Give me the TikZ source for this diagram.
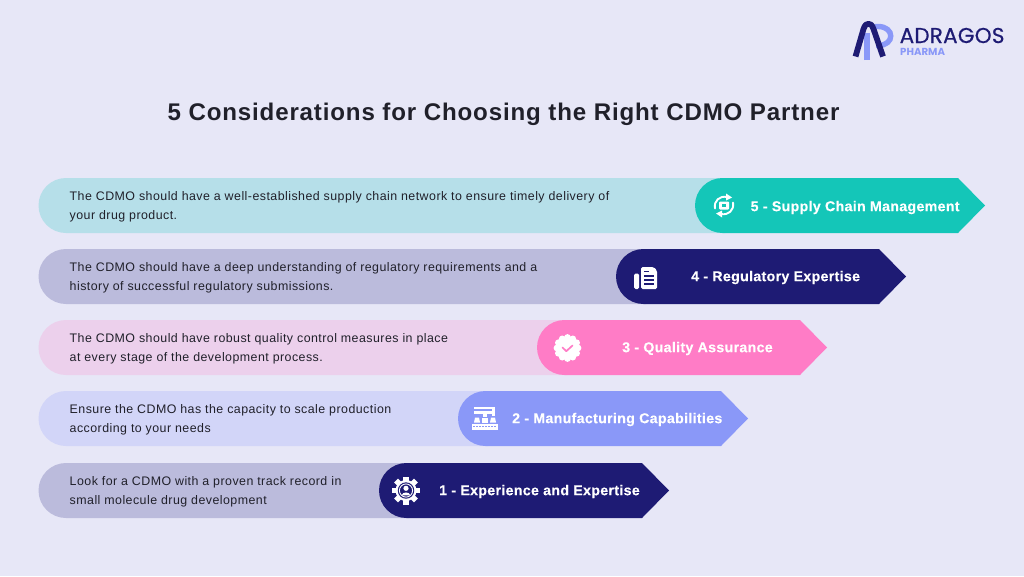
\documentclass[tikz,border=0pt]{standalone}
\usepackage{fontspec}
\setmainfont{Liberation Sans}
\newfontfamily\bodyfont[LetterSpace=3.7]{Liberation Sans}
\newfontfamily\headfont[LetterSpace=2.2,FakeBold=0.2]{Liberation Sans}
\newfontfamily\titlefont[LetterSpace=3.5]{Liberation Sans}
\newfontfamily\logofont[FakeBold=0.5,LetterSpace=1]{Poppins}
\newfontfamily\logosubfont{Poppins}
\definecolor{pagebg}{HTML}{E7E7F7}
\definecolor{navy}{HTML}{1E1B74}
\definecolor{teal}{HTML}{14C6B8}
\definecolor{tealsoft}{HTML}{B6DFE9}
\definecolor{navysoft}{HTML}{BBBBDC}
\definecolor{pink}{HTML}{FF7CC6}
\definecolor{pinksoft}{HTML}{ECD0EC}
\definecolor{periwinkle}{HTML}{8A98F8}
\definecolor{perisoft}{HTML}{D2D5F8}
\definecolor{inktext}{HTML}{20202A}
\tikzset{
  x=1pt,y=-1pt,
  bodytext/.style={anchor=west,align=left,text=inktext,font=\bodyfont\fontsize{12.4}{19}\selectfont,inner sep=0pt},
  headtext/.style={text=white,font=\headfont\bfseries\fontsize{14.2}{17}\selectfont,inner sep=0pt},
  iconline/.style={draw=white,line width=1.9pt,line cap=round,line join=round},
}
% One row: soft rounded strip plus a coloured arrow-shaped label.
% #1 top y, #2 arrow left x, #3 soft colour, #4 strong colour
\newcommand{\rowbar}[4]{%
  \fill[#3] (66,#1) arc[start angle=270,end angle=90,radius=27.5] -- (#2+30,#1+55) -- (#2+30,#1) -- cycle;
  \fill[#4] (#2+27.5,#1) -- (#2+263,#1) -- (#2+290,#1+27.5) -- (#2+263,#1+55) -- (#2+27.5,#1+55)
     arc[start angle=90,end angle=270,radius=27.5] -- cycle;
}
\begin{document}
\begin{tikzpicture}
\useasboundingbox (0,0) rectangle (1024,576);
\fill[pagebg] (0,0) rectangle (1024,576);

% Logo mark and wordmark
\draw[periwinkle,line width=5.6pt] (867,60) -- (867,33);
\draw[periwinkle,line width=5.4pt] (875,26.5) -- (878,26.5) .. controls (895,26.5) and (895,45.5) .. (878,45.5) -- (876,45.5);
\draw[navy,line width=5.8pt,line join=round] (855.5,56.5) -- (863.5,29) .. controls (865,24.5) and (866.8,23.8) .. (868.5,23.8) .. controls (870.2,23.8) and (872,24.5) .. (873.5,29) -- (883,56.5);
\node[anchor=west,inner sep=0pt,text=navy] (brand) at (899.5,35.5) {\logofont\fontsize{21.5}{21.5}\selectfont ADRAGOS};
\node[anchor=west,inner sep=0pt,text=periwinkle] (brandsub) at (900,51.5) {\logosubfont\bfseries\fontsize{10.2}{10.2}\selectfont PHARMA};

% Heading
\node[inner sep=0pt,text=inktext] (heading) at (503.5,114.5) {\titlefont\bfseries\fontsize{24.1}{28}\selectfont 5 Considerations for Choosing the Right CDMO Partner};

% Rows, top to bottom
\rowbar{178}{695}{tealsoft}{teal}
\rowbar{249}{616}{navysoft}{navy}
\rowbar{320}{537}{pinksoft}{pink}
\rowbar{391}{458}{perisoft}{periwinkle}
\rowbar{463}{379}{navysoft}{navy}

\node[bodytext] (text5) at (69.5,206.5) {The CDMO should have a well-established supply chain network to ensure timely delivery of\\your drug product.};
\node[bodytext] (text4) at (69.5,277.5) {The CDMO should have a deep understanding of regulatory requirements and a\\history of successful regulatory submissions.};
\node[bodytext] (text3) at (69.5,348.5) {The CDMO should have robust quality control measures in place\\at every stage of the development process.};
\node[bodytext] (text2) at (69.5,419.5) {Ensure the CDMO has the capacity to scale production\\according to your needs};
\node[bodytext] (text1) at (69.5,491.5) {Look for a CDMO with a proven track record in\\small molecule drug development};

\node[headtext,anchor=west] (head5) at (750.5,207.5) {5 - Supply Chain Management};
\node[headtext,anchor=west] (head4) at (691,277.5) {4 - Regulatory Expertise};
\node[headtext,anchor=west] (head3) at (622,348.5) {3 - Quality Assurance};
\node[headtext,anchor=west] (head2) at (512,419.5) {2 - Manufacturing Capabilities};
\node[headtext,anchor=west] (head1) at (439,491.5) {1 - Experience and Expertise};

% Icon: rotating arrows around a small box (row 5)
\begin{scope}[shift={(724,205.5)}]
  \draw[iconline] (-9,3) .. controls (-10.5,-5) and (-4,-10) .. (3,-8.5);
  \draw[iconline] (9,-3) .. controls (10.5,5) and (4,10) .. (-3,8.5);
  \fill[white] (2,-12) -- (8,-8) -- (2,-5) -- cycle;
  \fill[white] (-2,12) -- (-8,8) -- (-2,5) -- cycle;
  \fill[white,rounded corners=1pt] (-5,-4) rectangle (5,4);
  \fill[teal] (-2.2,-1.4) rectangle (2.2,1.4);
\end{scope}

% Icon: stacked documents (row 4)
\begin{scope}[shift={(646,278)}]
  \fill[white,rounded corners=1.5pt] (-5,-11) -- (7.5,-11) -- (11,-7.5) -- (11,11) -- (-5,11) -- cycle;
  \fill[white,rounded corners=1.5pt] (-12,-4.5) rectangle (-7,11);
  \foreach \yy in {-3,1.2,5.4}{\fill[navy] (-2,\yy) rectangle (8,\yy+1.6);}
  \fill[navy] (-2,-7.5) rectangle (3,-6);
\end{scope}

% Icon: scalloped badge with check mark (row 3)
\begin{scope}[shift={(567.5,348)}]
  \foreach \a in {0,30,...,330}{\fill[white] (\a:10.5) circle[radius=3.4];}
  \fill[white] (0,0) circle[radius=11];
  \draw[pink,line width=1.7pt,line cap=round,line join=round] (-5,-0.5) -- (-1.2,3.2) -- (5,-2.5);
\end{scope}

% Icon: robot arm above a conveyor (row 2)
\begin{scope}[shift={(485,419)}]
  \fill[white] (-11,-12) rectangle (9,-10);
  \fill[white] (-11,-8.5) rectangle (10,-5.5);
  \fill[white] (-2,-5.5) rectangle (2,-2);
  \fill[white] (7,-12) rectangle (10,-3);
  \fill[white] (-10,-1.5) -- (-6,-1.5) -- (-5,3.5) -- (-11,3.5) -- cycle;
  \fill[white] (-3,-1.5) -- (3,-1.5) -- (3,3.5) -- (-3,3.5) -- cycle;
  \fill[white] (6,-1.5) -- (10,-1.5) -- (11,3.5) -- (5,3.5) -- cycle;
  \fill[white] (-13,4.5) rectangle (13,11);
  \foreach \xx in {-11,-8,...,11}{\fill[periwinkle] (\xx-.6,7) rectangle (\xx+.6,8.4);}
\end{scope}

% Icon: gear with a person inside (row 1)
\begin{scope}[shift={(406,490.5)}]
  \foreach \a in {0,45,...,315}{\fill[white,rotate=\a] (-2.8,-14) rectangle (2.8,-8);}
  \fill[white] (0,0) circle[radius=10.5];
  \fill[navy] (0,0) circle[radius=8.2];
  \draw[white,line width=.9pt] (0,0) circle[radius=6.6];
  \fill[white] (0,-2.2) circle[radius=2.6];
  \fill[white] (-4.2,4.8) .. controls (-4,1) and (4,1) .. (4.2,4.8) -- cycle;
\end{scope}
\end{tikzpicture}
\end{document}
